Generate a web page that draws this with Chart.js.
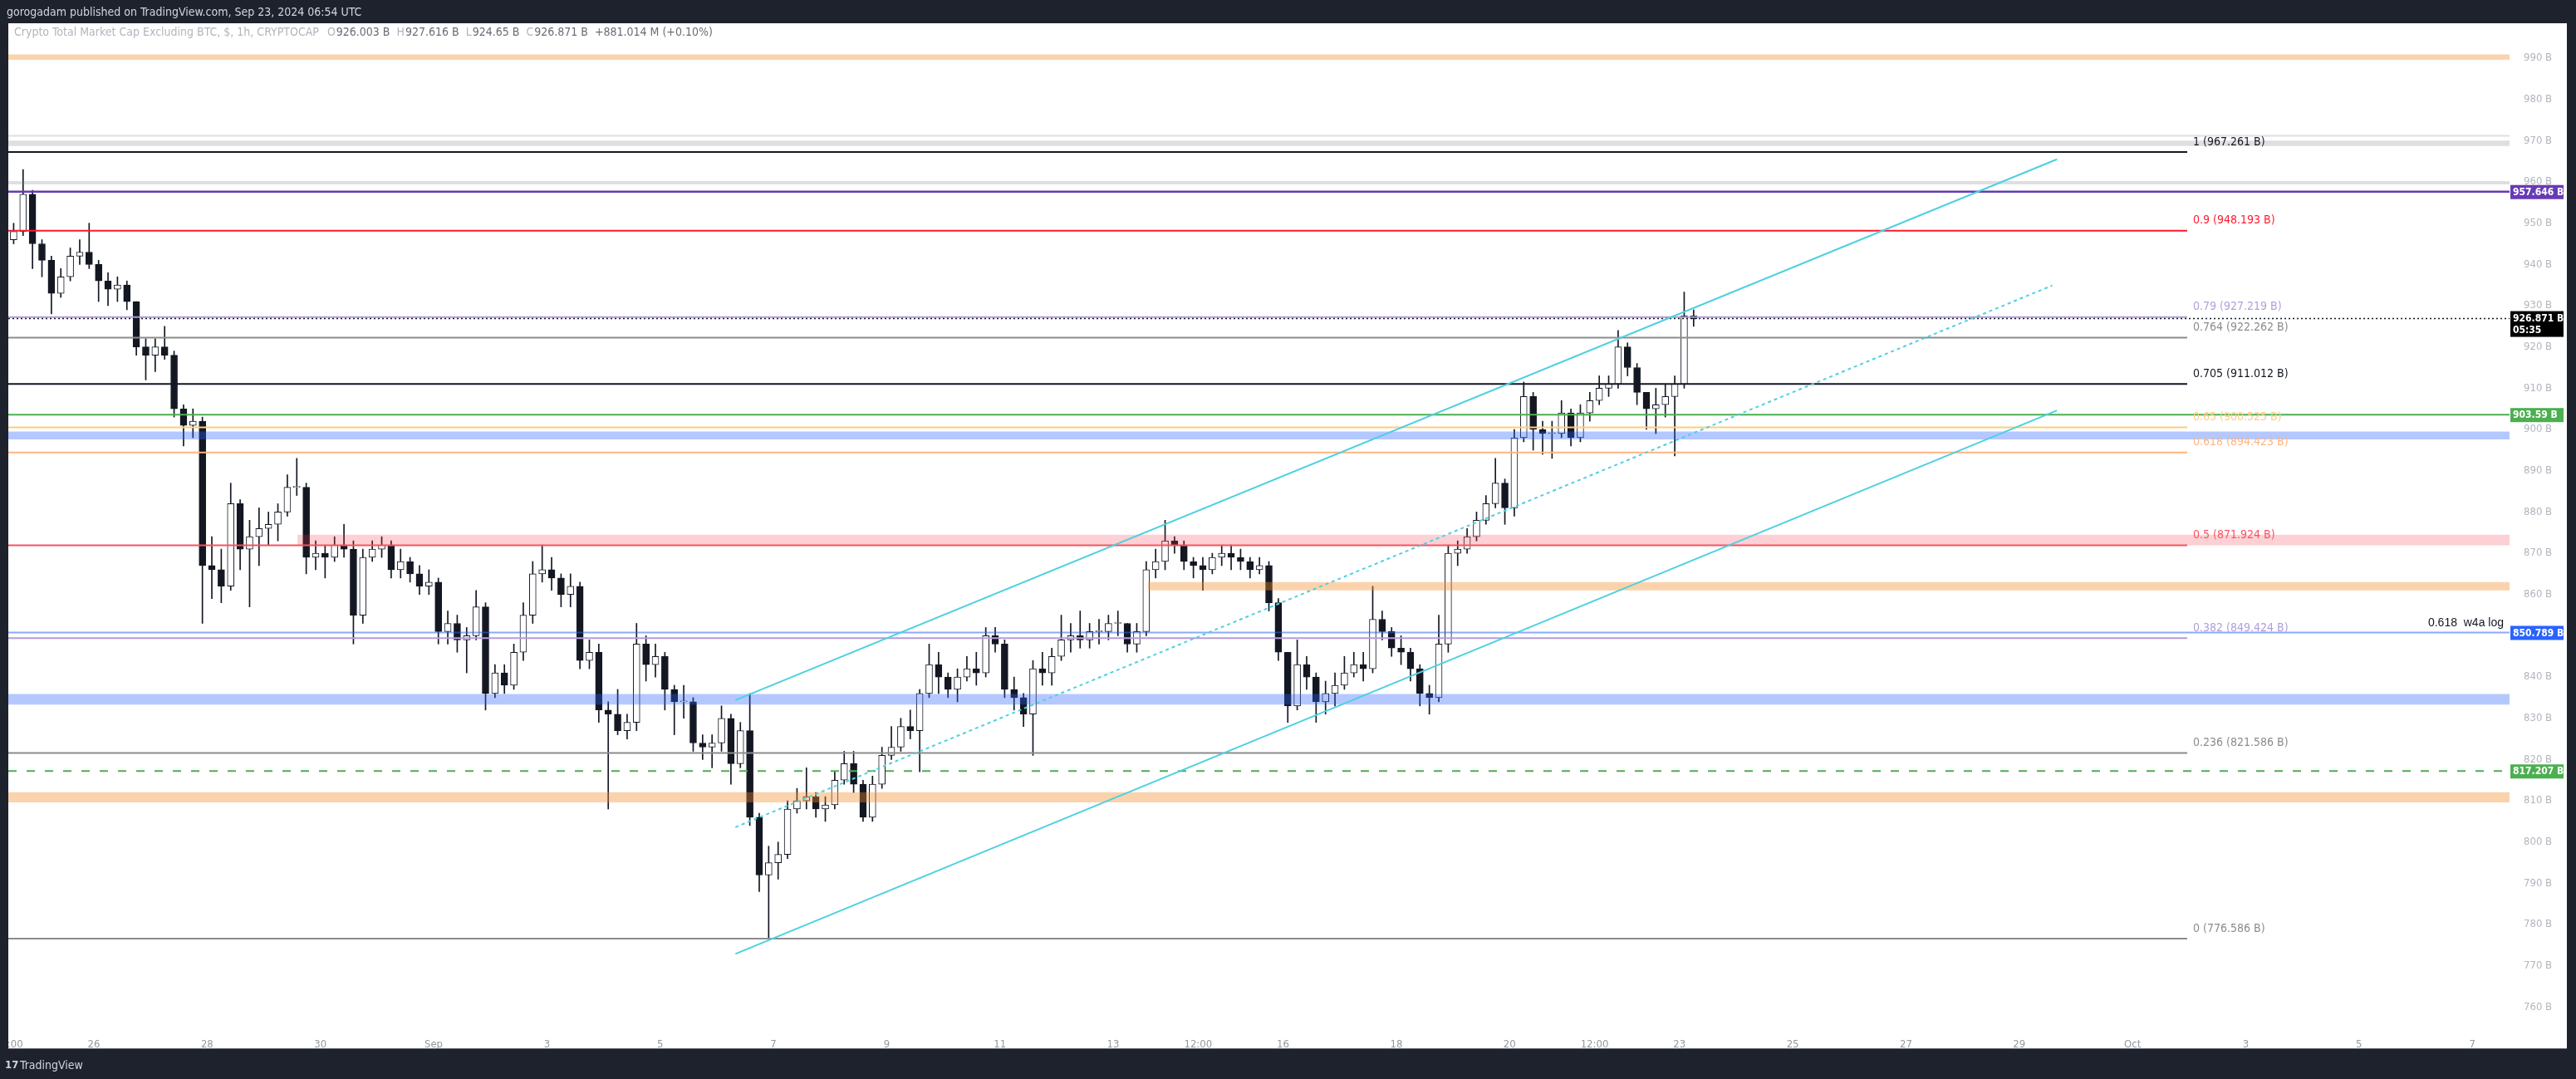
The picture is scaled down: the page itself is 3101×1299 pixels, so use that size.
<!DOCTYPE html>
<html>
<head>
<meta charset="utf-8">
<script src="https://cdn.jsdelivr.net/npm/chart.js@4.4.1/dist/chart.umd.min.js"></script>
<style>
  html, body { margin: 0; padding: 0; background: #1e222d; }
  canvas { display: block; }
</style>
</head>
<body>
<canvas id="myChart" width="3101" height="1299"></canvas>
<script>
// time axis in hours from Aug 26 2024 00:00 UTC
var tickHours = [-36, 0, 48, 96, 144, 192, 240, 288, 336, 384, 432, 468, 504, 552, 600, 636, 672, 720, 768, 816, 864, 912, 960, 1008];
var tickLabels = ['12:00', '26', '28', '30', 'Sep', '3', '5', '7', '9', '11', '13', '12:00', '16', '18', '20', '12:00', '23', '25', '27', '29', 'Oct', '3', '5', '7'];
var yTickValues = [760, 770, 780, 790, 800, 810, 820, 830, 840, 850, 860, 870, 880, 890, 900, 910, 920, 930, 940, 950, 960, 970, 980, 990];

// candles (4h), billions USD
var firstCandleHour = -36;
var candleHours = 4;
var firstOpen = 946;
var closes = [948, 957, 945, 941, 933, 937, 942, 943, 940, 936, 934, 935, 931, 920, 918, 920, 918, 905, 901, 902,
  867, 866, 862, 882, 871, 874, 876, 877, 880, 886, 886, 869, 870, 869, 872, 871, 855, 869, 871, 872,
  866, 868, 865, 862, 863, 851, 853, 849, 850, 857, 836, 841, 838, 846, 855, 865, 866, 864, 860, 862,
  844, 846, 832, 831, 827, 829, 848, 843, 845, 837, 834, 834, 824, 823, 824, 830, 819, 827, 806, 792,
  795, 797, 808, 810, 811, 808, 809, 815, 819, 814, 806, 814, 821, 823, 828, 827, 836, 843, 840, 837,
  840, 842, 841, 850, 848, 837, 835, 831, 842, 841, 845, 849, 850, 849, 851, 851, 853, 853, 848, 851,
  866, 868, 873, 872, 868, 867, 866, 869, 870, 869, 868, 866, 867, 858, 846, 833, 843, 840, 834, 836,
  838, 841, 843, 842, 854, 851, 847, 846, 842, 836, 835, 848, 870, 871, 874, 878, 882, 887, 881, 898,
  908, 900, 899, 899, 904, 898, 904, 907, 910, 911, 920, 915, 909, 905, 906, 908, 911, 927.5, 926.871];
var highs = [950, 963, 958, 946, 942, 939, 944, 946, 950, 941, 938, 937, 936, 931, 922, 922, 925, 919, 906, 905,
  903, 874, 871, 887, 883, 878, 881, 880, 882, 889, 893, 887, 873, 872, 874, 877, 873, 871, 873, 874,
  873, 871, 869, 867, 866, 864, 856, 855, 852, 861, 858, 843, 843, 848, 858, 868, 872, 869, 865, 865,
  863, 849, 848, 834, 837, 831, 853, 850, 848, 846, 838, 838, 835, 826, 826, 833, 831, 829, 836, 807,
  799, 800, 810, 813, 818, 812, 811, 817, 822, 822, 815, 816, 823, 828, 830, 832, 837, 848, 846, 841,
  842, 845, 846, 852, 852, 849, 840, 836, 844, 846, 847, 855, 853, 856, 853, 854, 855, 856, 853, 853,
  868, 871, 878, 874, 873, 869, 869, 870, 872, 872, 871, 869, 869, 868, 859, 846, 849, 845, 841, 839,
  841, 845, 846, 846, 862, 856, 852, 850, 847, 843, 838, 855, 872, 873, 876, 880, 884, 893, 888, 900,
  911.5, 909, 902, 902, 907, 905, 906, 909, 913, 913, 924, 921, 916, 909, 910, 911, 913, 933.3, 929];
var lows = [945, 947, 939, 937, 928, 932, 936, 940, 939, 931, 930, 931, 929, 918, 912, 914, 917, 903, 896, 898,
  853, 859, 858, 861, 866, 857, 867, 872, 873, 879, 884, 865, 866, 864, 868, 869, 848, 853, 868, 869,
  864, 864, 863, 860, 860, 848, 848, 846, 841, 849, 832, 835, 836, 837, 844, 853, 863, 861, 857, 857,
  842, 842, 829, 808, 826, 825, 827, 839, 840, 832, 826, 830, 822, 820, 818, 822, 814, 818, 804, 788,
  776.6, 791, 796, 807, 808, 806, 805, 808, 814, 812, 805, 805, 813, 820, 822, 825, 817, 835, 836, 835,
  834, 839, 838, 840, 846, 835, 832, 828, 821, 838, 838, 844, 846, 847, 847, 848, 849, 850, 846, 846,
  850, 864, 866, 870, 866, 864, 861, 865, 867, 866, 866, 864, 865, 856, 844, 829, 832, 837, 829, 831,
  833, 837, 840, 839, 841, 849, 845, 843, 839, 833, 831, 834, 846, 867, 870, 873, 877, 881, 877, 879,
  897, 895, 894, 893, 898, 896, 897, 902, 906, 908, 910, 913, 906, 900, 899, 903, 893.6, 910, 925];

// fib retracement
var fibRatios = ['1', '0.9', '0.79', '0.764', '0.705', '0.65', '0.618', '0.5', '0.382', '0.236', '0'];
var fibPrices = [967.261, 948.193, 927.219, 922.262, 911.012, 900.525, 894.423, 871.924, 849.424, 821.586, 776.586];
var fibEndHour = 887.2;

// zones
var bandLows = [989.6, 968.7, 959.4, 897.6, 871.9, 861.0, 833.3, 809.6];
var bandHighs = [990.9, 970.0, 960.2, 899.5, 874.5, 863.0, 835.9, 812.1];
var bandStartHours = [null, null, null, null, 86.3, 446.8, null, null];

// horizontal levels across the whole chart
var levelPrices = [971.2, 957.646, 926.871, 903.59, 850.789, 817.207];

// parallel channel (upper, middle, lower)
var channelStartHours = [271.9, 271.9, 271.9];
var channelStartPrices = [834.4, 803.6, 772.9];
var channelEndHours = [832, 830, 832];
var channelEndPrices = [965.5, 934.9, 904.6];

// price tags on the axis
var tagPrices = [957.646, 926.871, 903.59, 850.789, 817.207];
var tagTexts = ['957.646 B', '926.871 B', '903.59 B', '850.789 B', '817.207 B'];

var headerText = 'gorogadam published on TradingView.com, Sep 23, 2024 06:54 UTC';
var legendParts = ['Crypto Total Market Cap Excluding BTC, $, 1h, CRYPTOCAP', 'O', '926.003 B', 'H', '927.616 B', 'L', '924.65 B', 'C', '926.871 B', '+881.014 M (+0.10%)'];

var tMin = -36.26, tMax = 1023.8;
var yMin = 755.25, yMax = 998.46;

var narrow = "'Liberation Sans Narrow', 'DejaVu Sans Condensed', 'Liberation Sans', sans-serif";
var ink = '#131722';

// styles
var fibColors = ['#131722', '#ff1a2e', '#b39ddb', '#8c8c8c', '#131722', '#ffcc80', '#ffb47e', '#f7525f', '#b39ddb', '#8c8c8c', '#8c8c8c'];
var bandColors = ['rgba(242,140,40,0.38)', 'rgba(120,123,134,0.24)', 'rgba(120,123,134,0.24)', 'rgba(41,98,255,0.35)',
  'rgba(242,54,69,0.23)', 'rgba(242,140,40,0.38)', 'rgba(41,98,255,0.35)', 'rgba(242,140,40,0.38)'];
var levelColors = ['rgba(120,123,134,0.24)', '#673ab7', '#131722', '#4caf50', 'rgba(41,98,255,0.55)', '#4caf50'];
var levelWidths = [2, 2.5, 1.5, 2, 2, 2];
var levelDashes = [[], [], [2, 3], [], [], [10, 12]];
var tagColors = ['#673ab7', '#000000', '#4caf50', '#2962ff', '#4caf50'];
var cyan = '#4dd0e1';

var datasets = [];

// candles: wicks and bodies as floating bars
var wickData = [], bodyData = [], bodyFill = [];
var prev = firstOpen;
for (var i = 0; i < closes.length; i++) {
  var x = firstCandleHour + i * candleHours + candleHours / 2;
  var o = prev, c = closes[i];
  wickData.push({ x: x, y: [lows[i], highs[i]] });
  bodyData.push({ x: x, y: o === c ? [o, c + 0.2] : [o, c] });
  bodyFill.push(c >= o ? '#ffffff' : ink);
  prev = c;
}
datasets.push({
  type: 'bar', data: wickData, backgroundColor: ink, borderWidth: 0,
  barThickness: 1, maxBarThickness: 1, grouped: false, order: 11
});
datasets.push({
  type: 'bar', data: bodyData, backgroundColor: bodyFill, borderColor: ink, borderWidth: 1,
  borderSkipped: false, barThickness: 8, maxBarThickness: 8, grouped: false, order: 10
});

// zones
for (var b = 0; b < bandLows.length; b++) {
  var x0 = bandStartHours[b] === null ? tMin : bandStartHours[b];
  datasets.push({
    type: 'line', data: [{ x: x0, y: bandHighs[b] }, { x: tMax, y: bandHighs[b] }],
    borderWidth: 0, borderColor: 'rgba(0,0,0,0)', pointRadius: 0,
    fill: { value: bandLows[b] }, backgroundColor: bandColors[b], order: 5
  });
}

// fib levels
for (var f = 0; f < fibPrices.length; f++) {
  datasets.push({
    type: 'line', data: [{ x: tMin, y: fibPrices[f] }, { x: fibEndHour, y: fibPrices[f] }],
    borderColor: fibColors[f], borderWidth: 2, pointRadius: 0, fill: false, order: 3
  });
}

// full width levels
for (var l = 0; l < levelPrices.length; l++) {
  datasets.push({
    type: 'line', data: [{ x: tMin, y: levelPrices[l] }, { x: tMax, y: levelPrices[l] }],
    borderColor: levelColors[l], borderWidth: levelWidths[l], borderDash: levelDashes[l],
    pointRadius: 0, fill: false, order: 2
  });
}

// channel
for (var k = 0; k < 3; k++) {
  datasets.push({
    type: 'line',
    data: [{ x: channelStartHours[k], y: channelStartPrices[k] }, { x: channelEndHours[k], y: channelEndPrices[k] }],
    borderColor: cyan, borderWidth: 2, borderDash: k === 1 ? [4, 4] : [],
    pointRadius: 0, fill: false, order: 1
  });
}

var frame = {
  id: 'frame',
  beforeDraw: function (chart) {
    var ctx = chart.ctx;
    ctx.save();
    ctx.fillStyle = '#1e222d';
    ctx.fillRect(0, 0, chart.width, chart.height);
    ctx.fillStyle = '#ffffff';
    ctx.fillRect(10, 28, 3080, 1235);
    ctx.restore();
  },
  afterDraw: function (chart) {
    var ctx = chart.ctx;
    var ys = chart.scales.y;
    ctx.save();

    // left strip clips the first time label like TradingView does
    ctx.fillStyle = '#1e222d';
    ctx.fillRect(0, 1236, 10, 63);
    ctx.fillStyle = '#5d606b';
    ctx.fillRect(10, 1262, 3080, 1);

    // fib labels
    ctx.font = '14px ' + narrow;
    ctx.textAlign = 'left';
    ctx.textBaseline = 'middle';
    for (var f = 0; f < fibPrices.length; f++) {
      ctx.fillStyle = fibColors[f];
      ctx.fillText(fibRatios[f] + ' (' + fibPrices[f].toFixed(3) + ' B)', 2640, ys.getPixelForValue(fibPrices[f]) - 12);
    }

    // note on the blue level
    ctx.font = '14px "Liberation Sans", sans-serif';
    ctx.textAlign = 'right';
    ctx.fillStyle = ink;
    ctx.fillText('0.618  w4a log', 3014, ys.getPixelForValue(levelPrices[4]) - 11);

    // axis tags
    ctx.textAlign = 'left';
    ctx.font = 'bold 12px ' + narrow;
    for (var t = 0; t < tagPrices.length; t++) {
      var py = ys.getPixelForValue(tagPrices[t]);
      ctx.fillStyle = tagColors[t];
      if (t === 1) {
        ctx.fillRect(3022, py - 9, 64, 31);
        ctx.fillStyle = '#ffffff';
        ctx.fillText(tagTexts[t], 3025, py);
        ctx.fillText('05:35', 3025, py + 14);
      } else {
        ctx.fillRect(3022, py - 8, 64, 17);
        ctx.fillStyle = '#ffffff';
        ctx.fillText(tagTexts[t], 3025, py + 1);
      }
    }

    // header and legend
    ctx.font = '14px ' + narrow;
    ctx.fillStyle = '#d1d4dc';
    ctx.fillText(headerText, 8, 15);
    var lx = 17;
    for (var p = 0; p < legendParts.length; p++) {
      var isValue = p > 0 && p % 2 === 0 || p === legendParts.length - 1;
      ctx.fillStyle = isValue ? '#6a6d78' : '#b2b5be';
      ctx.fillText(legendParts[p], lx, 39);
      lx += ctx.measureText(legendParts[p]).width + (p === 0 ? 10 : (isValue ? 8 : 1));
    }

    // TradingView logo
    ctx.fillStyle = '#d1d4dc';
    ctx.font = 'bold 13px ' + narrow;
    ctx.fillText('17', 6, 1283);
    ctx.font = '14px ' + narrow;
    ctx.fillText('TradingView', 24, 1283);
    ctx.restore();
  }
};

Chart.defaults.font.family = narrow;

var ctx = document.getElementById('myChart').getContext('2d');
var myChart = new Chart(ctx, {
  type: 'bar',
  data: { datasets: datasets },
  options: {
    responsive: false,
    animation: false,
    devicePixelRatio: 1,
    layout: { padding: { left: 10, top: 28, right: 11, bottom: 36 } },
    plugins: { legend: { display: false }, tooltip: { enabled: false } },
    scales: {
      x: {
        type: 'linear', position: 'bottom', min: tMin, max: tMax, offset: false,
        grid: { display: false }, border: { display: false },
        afterBuildTicks: function (scale) {
          scale.ticks = tickHours.map(function (v) { return { value: v }; });
        },
        afterFit: function (scale) {
          scale.height = 27;
          scale.paddingLeft = 0;
          scale.paddingRight = 0;
        },
        ticks: {
          autoSkip: false, maxRotation: 0, padding: 6, color: '#9598a1',
          font: { size: 13, family: narrow },
          callback: function (v, idx) { return tickLabels[idx]; }
        }
      },
      y: {
        type: 'linear', position: 'right', min: yMin, max: yMax,
        grid: { display: false }, border: { display: false },
        afterBuildTicks: function (scale) {
          scale.ticks = yTickValues.map(function (v) { return { value: v }; });
        },
        afterFit: function (scale) {
          scale.width = 69;
          scale.paddingTop = 0;
          scale.paddingBottom = 0;
        },
        ticks: {
          padding: 9, color: '#b2b5be',
          font: { size: 13, family: narrow },
          callback: function (v) { return v + ' B'; }
        }
      }
    }
  },
  plugins: [frame]
});
</script>
</body>
</html>
